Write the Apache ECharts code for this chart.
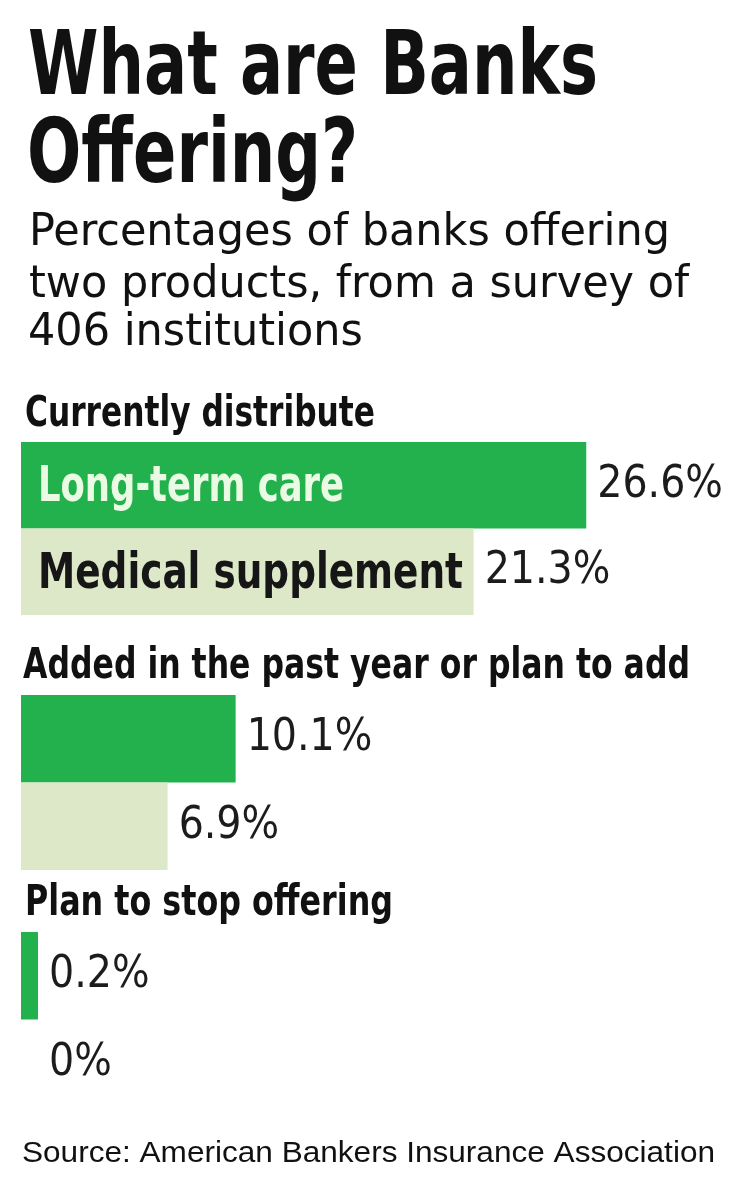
<!DOCTYPE html>
<html>
<head>
<meta charset="utf-8">
<script src="https://cdn.jsdelivr.net/npm/echarts@6/dist/echarts.min.js"></script>
<style>
  html, body { margin: 0; padding: 0; background: #ffffff; }
  #chart { width: 740px; height: 1202px; }
</style>
</head>
<body>
<div id="chart"></div>
<script>
// ---- Data ----
const titleLines = ['What are Banks', 'Offering?'];
const subtitleLines = ['Percentages of banks offering', 'two products, from a survey of', '406 institutions'];
const categories = ['Long-term care', 'Medical supplement'];
const sectionNames = ['Currently distribute', 'Added in the past year or plan to add', 'Plan to stop offering'];
const currentlyDistribute = [26.6, 21.3];
const addedOrPlanToAdd = [10.1, 6.9];
const planToStopOffering = [0.2, 0];
const sourceText = 'Source: American Bankers Insurance Association';

// ---- Styles ----
const COND = "'DejaVu Sans Condensed', 'DejaVu Sans', sans-serif";
const SANS = "'Liberation Sans', Arial, sans-serif";
const GREEN = '#22b14c';
const BEIGE = '#dde8c8';
const INK = '#111111';

const measureCtx = document.createElement('canvas').getContext('2d');
function textWidth(text, weight, size, family) {
  measureCtx.font = weight + ' ' + size + 'px ' + family;
  return measureCtx.measureText(text).width || 1;
}
function textEl(text, x, y, size, weight, family, scaleX, color, vAlign) {
  return {
    type: 'text', x: x, y: y, scaleX: scaleX, z: 100,
    style: {
      text: text, fill: color || INK,
      fontSize: size, fontWeight: weight, fontFamily: family,
      align: 'left', verticalAlign: vAlign || 'top',
      textAlign: 'left', textVerticalAlign: vAlign || 'top'
    }
  };
}

// title: one condensing factor for both lines
const titleScale = 570 / textWidth(titleLines[0], 'bold', 89, COND);
const subScale = 641 / textWidth(subtitleLines[0], 'normal', 45, COND);

const graphics = [
  textEl(titleLines[0], 28, 26, 89, 'bold', COND, titleScale),
  textEl(titleLines[1], 27, 114, 89, 'bold', COND, titleScale),
  textEl(subtitleLines[0], 29, 211, 45, 'normal', COND, subScale),
  textEl(subtitleLines[1], 29, 263, 45, 'normal', COND, subScale),
  textEl(subtitleLines[2], 28, 311, 45, 'normal', COND, subScale),
  textEl(sectionNames[0], 25, 393, 43, 'bold', COND, 350 / textWidth(sectionNames[0], 'bold', 43, COND)),
  textEl(sectionNames[1], 23, 645, 43, 'bold', COND, 667 / textWidth(sectionNames[1], 'bold', 43, COND)),
  textEl(sectionNames[2], 25, 882, 43, 'bold', COND, 368 / textWidth(sectionNames[2], 'bold', 43, COND)),
  textEl(sourceText, 22, 1139, 29, 'normal', SANS, 693 / textWidth(sourceText, 'normal', 29, SANS))
];

const grids = [
  { left: 21, top: 442, width: 637.5, height: 173 },
  { left: 21, top: 695, width: 637.5, height: 175 },
  { left: 21, top: 932, width: 637.5, height: 175 }
];
const sectionValues = [currentlyDistribute, addedOrPlanToAdd, planToStopOffering];

const xAxes = grids.map((g, i) => ({
  type: 'value', gridIndex: i, min: 0, max: 30, show: false
}));
const yAxes = grids.map((g, i) => ({
  type: 'category', gridIndex: i, data: categories, inverse: true,
  axisLine: { show: false }, axisTick: { show: false }, splitLine: { show: false },
  axisLabel: { show: false }
}));
const series = sectionValues.map((vals, i) => ({
  type: 'bar', xAxisIndex: i, yAxisIndex: i,
  data: vals, barCategoryGap: '0%', barMinHeight: 17,
  itemStyle: {
    color: p => p.value === 0 ? 'rgba(0,0,0,0)' : (p.dataIndex === 0 ? GREEN : BEIGE)
  },
  label: {
    show: true, position: 'right', distance: 11,
    formatter: p => p.value + '%',
    fontSize: 44, fontFamily: COND, color: '#1c1c1c'
  },
  silent: true, animation: false
}));

const chart = echarts.init(document.getElementById('chart'), null, { renderer: 'canvas' });
chart.setOption({
  backgroundColor: '#ffffff',
  animation: false,
  grid: grids,
  xAxis: xAxes,
  yAxis: yAxes,
  series: series
});

// category names written inside the first pair of bars, placed from the library's own scales
const inBarColors = ['#e9fbe3', '#161616'];
const inBarWidths = [306, 425];
categories.forEach((name, idx) => {
  const pt = chart.convertToPixel({ xAxisIndex: 0, yAxisIndex: 0 }, [0, name]);
  const sx = inBarWidths[idx] / textWidth(name, 'bold', 50, COND);
  graphics.push(textEl(name, pt[0] + 17, pt[1] + 3, 50, 'bold', COND, sx, inBarColors[idx], 'middle'));
});

chart.setOption({ graphic: { elements: graphics } });
</script>
</body>
</html>
